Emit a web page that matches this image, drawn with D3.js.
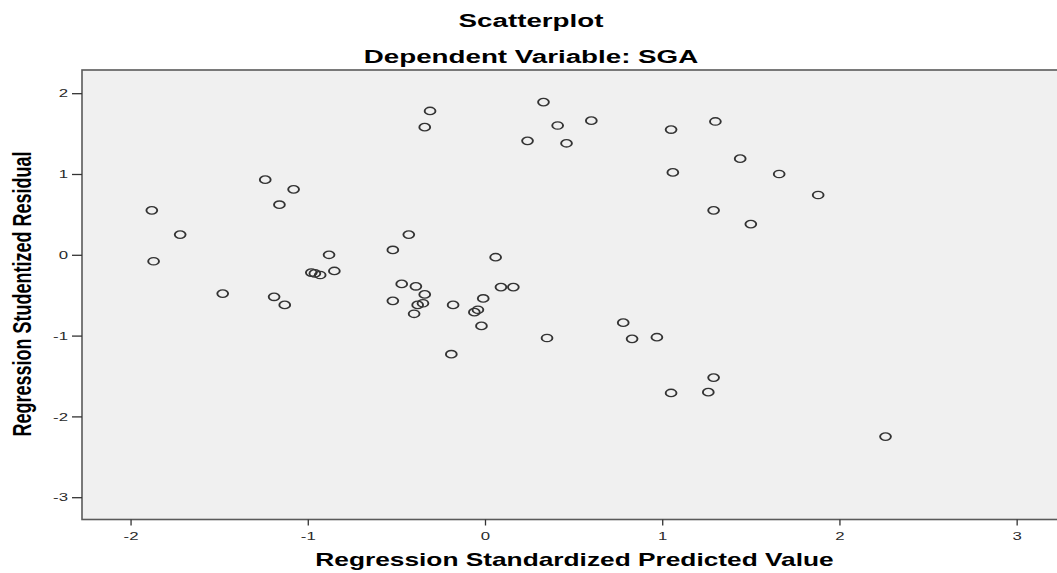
<!DOCTYPE html>
<html>
<head>
<meta charset="UTF-8">
<title>Scatterplot</title>
<script src="https://d3js.org/d3.v7.min.js"></script>
<style>
 body { margin: 0; background: #fff; }
 svg text { font-family: "Liberation Sans", Arial, sans-serif; }
</style>
</head>
<body>
<svg id="chart" width="1057" height="573"></svg>
<script>
// values
var predicted = [-1.88, -1.87, -1.72, -1.48, -1.24, -1.16, -1.08, -1.19, -1.13, -0.88,
                 -0.98, -0.96, -0.93, -0.85, -0.52, -0.43, -0.47, -0.39, -0.34, -0.52,
                 -0.38, -0.35, -0.40, -0.31, -0.34, -0.18, -0.19, -0.01, 0.06, 0.09,
                 0.16, -0.06, -0.04, -0.02, 0.35, 0.33, 0.41, 0.60, 0.24, 0.46,
                 0.78, 0.83, 0.97, 1.05, 1.30, 1.06, 1.44, 1.66, 1.88, 1.29,
                 1.50, 1.29, 1.05, 1.26, 2.26];
var residual = [0.55, -0.08, 0.25, -0.48, 0.93, 0.62, 0.81, -0.52, -0.62, 0.00,
                -0.22, -0.23, -0.25, -0.20, 0.06, 0.25, -0.36, -0.39, -0.49, -0.57,
                -0.62, -0.60, -0.73, 1.78, 1.58, -0.62, -1.23, -0.54, -0.03, -0.40,
                -0.40, -0.71, -0.68, -0.88, -1.03, 1.89, 1.60, 1.66, 1.41, 1.38,
                -0.84, -1.04, -1.02, 1.55, 1.65, 1.02, 1.19, 1.00, 0.74, 0.55,
                0.38, -1.52, -1.71, -1.70, -2.25];
var xTicks = [-2, -1, 0, 1, 2, 3];
var yTicks = [2, 1, 0, -1, -2, -3];
var xDomain = [-2.274, 3.301];
var yDomain = [-3.276, 2.287];

var title = "Scatterplot";
var subtitle = "Dependent Variable: SGA";
var xTitle = "Regression Standardized Predicted Value";
var yTitle = "Regression Studentized Residual";

// the original picture is stretched sideways, so text and markers get this x factor
var SX = 1.46;
var margin = {top: 70, left: 82};
var plotW = 1000, plotH = 449.5;

var svg = d3.select("#chart");

var xScale = d3.scaleLinear().domain(xDomain).range([margin.left, margin.left + 988]);
var yScale = d3.scaleLinear().domain(yDomain).range([margin.top + plotH, margin.top]);

// plain hyphen for negatives, like SPSS
var fmt = function(d) { return String(d); };

/* plot frame */
svg.append("rect")
  .attr("x", margin.left).attr("y", margin.top)
  .attr("width", plotW).attr("height", plotH)
  .style("fill", "#f0f0f0")
  .style("stroke", "#5a5a5a")
  .style("stroke-width", 1.6);

/* axes */
var x_axis = d3.axisBottom(xScale).tickValues(xTicks).tickSize(6).tickSizeOuter(0).tickFormat(fmt);
var gx = svg.append("g")
  .attr("transform", "translate(0," + (margin.top + plotH) + ")")
  .call(x_axis);

var y_axis = d3.axisLeft(yScale).tickValues(yTicks).tickSize(10).tickSizeOuter(0).tickFormat(fmt);
var gy = svg.append("g")
  .attr("transform", "translate(" + margin.left + ",0)")
  .call(y_axis);

[gx, gy].forEach(function(g) {
  g.select(".domain").remove();
  g.selectAll(".tick line").style("stroke", "#333").style("stroke-width", 1.3);
  g.selectAll(".tick text")
    .style("font-size", "11.5px")
    .style("fill", "#2a2a2a")
    .attr("transform", "scale(" + SX + ",1)");
});
gx.selectAll(".tick text").attr("y", 12.5);
gy.selectAll(".tick text").attr("x", -9.6);

/* points */
svg.append("g").selectAll("g").data(predicted)
  .enter().append("g")
  .attr("transform", function(d, i) {
    return "translate(" + xScale(d) + "," + yScale(residual[i]) + ") scale(" + SX + ",1)";
  })
  .append("circle")
  .attr("r", 3.7)
  .style("fill", "none")
  .style("stroke", "#333")
  .style("stroke-width", 1.3);

/* titles */
function label(txt, x, y, size, rot) {
  svg.append("text")
    .attr("transform", "translate(" + x + "," + y + ") scale(" + SX + ",1)" + (rot ? " rotate(-90)" : ""))
    .attr("text-anchor", "middle")
    .style("font-size", size + "px")
    .style("font-weight", "bold")
    .style("fill", "#000")
    .text(txt);
}
label(title, 531, 27, 19);
label(subtitle, 531, 63, 19);
label(xTitle, 574.5, 566, 18);
label(yTitle, 30.5, 294, 18, true);
</script>
</body>
</html>
